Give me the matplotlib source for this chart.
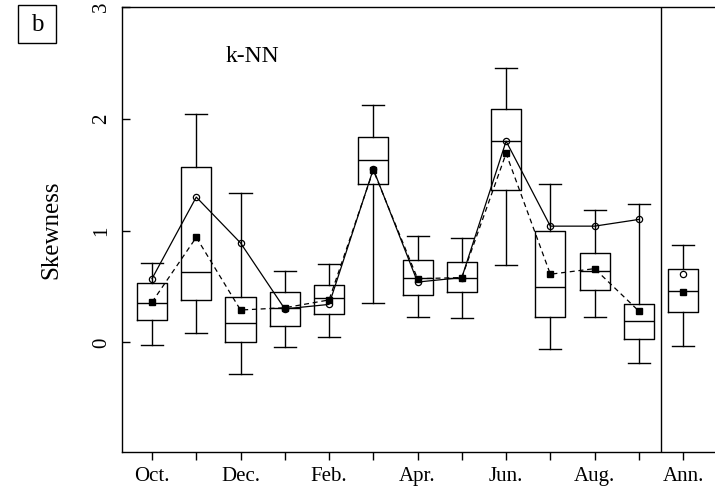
import matplotlib
matplotlib.use("Agg")
from matplotlib import pyplot as plt
from matplotlib.patches import Rectangle

# 월별 + 연간 (Oct. ~ Sep., Ann.)
labels = ['Oct.', 'Nov.', 'Dec.', 'Jan.', 'Feb.', 'Mar.', 'Apr.', 'May', 'Jun.', 'Jul.', 'Aug.', 'Sep.', 'Ann.']
shown = ['Oct.', '', 'Dec.', '', 'Feb.', '', 'Apr.', '', 'Jun.', '', 'Aug.', '', 'Ann.']

# 박스플롯 통계값
whis_lo = [-0.02, 0.08, -0.28, -0.04, 0.05, 0.35, 0.23, 0.22, 0.69, -0.06, 0.23, -0.18, -0.03]
q1 = [0.20, 0.38, 0.00, 0.15, 0.25, 1.42, 0.42, 0.45, 1.36, 0.23, 0.47, 0.03, 0.27]
med = [0.35, 0.63, 0.17, 0.31, 0.40, 1.63, 0.58, 0.58, 1.80, 0.50, 0.64, 0.19, 0.46]
q3 = [0.53, 1.57, 0.41, 0.45, 0.51, 1.84, 0.74, 0.72, 2.09, 1.00, 0.80, 0.34, 0.66]
whis_hi = [0.71, 2.04, 1.34, 0.64, 0.70, 2.12, 0.95, 0.93, 2.45, 1.42, 1.18, 1.24, 0.87]

# 관측값 (원), 모의 평균 (사각형)
obs = [0.57, 1.30, 0.89, 0.30, 0.34, 1.55, 0.54, 0.58, 1.80, 1.04, 1.04, 1.10, 0.61]
sim = [0.36, 0.94, 0.29, 0.31, 0.38, 1.54, 0.57, 0.58, 1.69, 0.61, 0.66, 0.28, 0.45]

plt.rcParams['font.family'] = 'Liberation Serif'

fig = plt.figure(figsize=(7.15, 4.94), dpi=100)
ax = fig.add_axes([122 / 715, 42 / 494, 593 / 715, 445 / 494])

pos = list(range(1, len(labels) + 1))
stats = []
for i in range(len(labels)):
    stats.append({'whislo': whis_lo[i], 'q1': q1[i], 'med': med[i],
                  'q3': q3[i], 'whishi': whis_hi[i], 'fliers': []})

lw = 1.0
ax.bxp(stats, positions=pos, widths=0.68, capwidths=0.5, showfliers=False,
       boxprops=dict(color='black', linewidth=lw),
       medianprops=dict(color='black', linewidth=lw),
       whiskerprops=dict(color='black', linewidth=lw),
       capprops=dict(color='black', linewidth=lw))

# 월별 선 (연간 제외)
ax.plot(pos[:12], obs[:12], color='black', linewidth=0.9, marker='o', markersize=4.5,
        markerfacecolor='none', markeredgewidth=0.9, zorder=4)
ax.plot(pos[:12], sim[:12], color='black', linewidth=0.9, linestyle=(0, (4, 3)),
        marker='s', markersize=5, zorder=5)
ax.plot(pos[12], obs[12], color='black', marker='o', markersize=4.5,
        markerfacecolor='none', markeredgewidth=0.9)
ax.plot(pos[12], sim[12], color='black', marker='s', markersize=5)

ax.axvline(12.5, color='black', linewidth=1.0)

ax.set_xlim(0.322, 13.72)
ax.set_ylim(-0.98, 3.0)
ax.set_xticks(pos)
ax.set_xticklabels(shown, fontsize=15)
ax.set_yticks([0, 1, 2, 3])
ax.set_yticklabels(['0', '1', '2', '3'], fontsize=15, rotation=90, va='center')
ax.tick_params(axis='x', direction='out', length=6, width=1.0, pad=5)
ax.tick_params(axis='y', direction='in', length=6, width=1.0, pad=8)
ax.spines['right'].set_visible(False)
for s in ['left', 'bottom', 'top']:
    ax.spines[s].set_linewidth(1.0)

ax.set_ylabel('Skewness', fontsize=18, labelpad=21)
ax.text(2.67, 2.56, 'k-NN', fontsize=17, ha='left', va='center')

# 패널 표시 b
fig.patches.append(Rectangle((18 / 715, 1 - 43 / 494), 38 / 715, 38 / 494,
                             transform=fig.transFigure, fill=False,
                             edgecolor='black', linewidth=1.0))
fig.text(37 / 715, 1 - 25 / 494, 'b', fontsize=18, ha='center', va='center')

plt.savefig('out.png', dpi=100)
